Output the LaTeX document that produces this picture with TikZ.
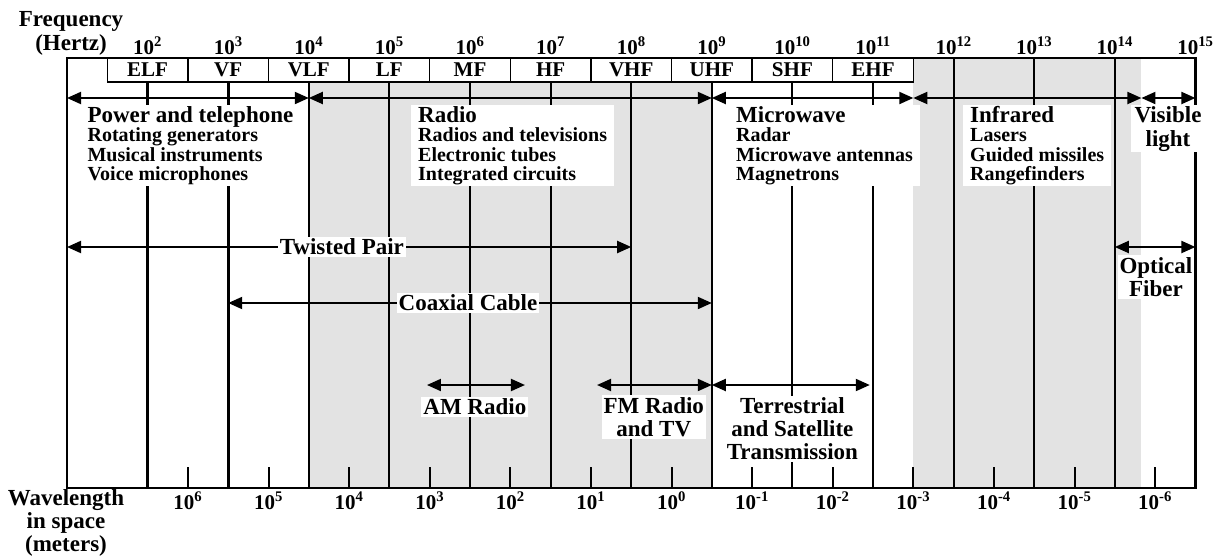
\documentclass[tikz,border=0pt]{standalone}
\usepackage{fontspec}
\setmainfont{Liberation Serif}
\usetikzlibrary{arrows.meta}

\newcommand\hdsize{\fontsize{23}{23}\selectfont}
\newcommand\itsize{\fontsize{20}{19.5}\selectfont}
\newcommand\nmsize{\fontsize{21}{21}\selectfont}

\begin{document}
\begin{tikzpicture}[
  x=80.6pt, y=-1pt,
  font=\bfseries\hdsize,
  band/.style={rectangle, draw, line width=1.4pt, fill=white,
               minimum width=80.6pt, minimum height=24pt, inner sep=0pt, font=\bfseries\nmsize},
  num/.style={anchor=base, inner sep=0pt, font=\bfseries\nmsize},
  dec/.style={line width=2pt},
  arr/.style={{Triangle[length=14pt,width=12pt]}-{Triangle[length=14pt,width=12pt]}, line width=2pt},
  blk/.style={fill=white, align=left, anchor=north west, inner xsep=7pt, inner ysep=1pt,
              font=\bfseries\itsize},
  lbl/.style={fill=white, align=center, inner sep=2pt},
]
\useasboundingbox (0.1687,0) rectangle (15.3672,558);

%% SHADED RANGES
\fill[black!11] (4,82) rectangle (9,488);
\fill[black!11] (11.5,58) rectangle (14.33,488);

%% FRAME
\draw[line width=2.8pt] (1,58) rectangle (15,488);

%% DECADE LINES
\foreach \n/\w in {2/3.4,3/3.4,4/2.4,5/2,6/2,7/2,8/2,9/2.6,10/2,11/2}
  \draw[line width=\w pt] (\n,82) -- (\n,488);
\foreach \n in {12,13,14}
  \draw[dec] (\n,58) -- (\n,488);

%% WAVELENGTH TICKS
\foreach \n in {2,...,14}
  \draw[dec] (\n+0.5,467) -- (\n+0.5,488);

%% BANDS
\foreach \n/\b in {2/ELF,3/VF,4/VLF,5/LF,6/MF,7/HF,8/VHF,9/UHF,10/SHF,11/EHF}
  \node[band] (\b) at (\n,70) {\b};

%% SCALES
\node[align=center, font=\bfseries\fontsize{23}{24}\selectfont] (freq) at (1.05,33) {Frequency\\(Hertz)};
\foreach \n in {2,...,15}
  \node[num] (hz\n) at (\n,54) {10\textsuperscript{\n}};

\node[align=center, font=\bfseries\fontsize{23}{23}\selectfont] (wave) at (0.988,523) {Wavelength\\in space\\(meters)};
\foreach \n [evaluate=\n as \e using int(8-\n)] in {2,...,14}
  \node[num] (m\n) at (\n+0.5,509) {10\textsuperscript{\e}};

%% ARROW ENDS
\foreach \c/\x/\y in {pw0/1/98, pw1/4/98, rd1/9/98, mw1/11.5/98, ir1/14.33/98, vl1/15/98,
                      tp0/1/247, tp1/8/247, of0/14/247, of1/15/247,
                      cx0/3/303, cx1/9/303,
                      am0/5.466/385, am1/6.682/385, fm0/7.576/385, fm1/9/385, ts1/10.96/385}
  \coordinate (\c) at (\x,\y);

\draw[arr] (pw0) -- (pw1);
\draw[arr] (pw1) -- (rd1);
\draw[arr] (rd1) -- (mw1);
\draw[arr] (mw1) -- (ir1);
\draw[arr] (ir1) -- (vl1);
\draw[arr] (tp0) -- (tp1);
\draw[arr] (of0) -- (of1);
\draw[arr] (cx0) -- (cx1);
\draw[arr] (am0) -- (am1);
\draw[arr] (fm0) -- (fm1);
\draw[arr] (fm1) -- (ts1);

%% APPLICATIONS
\node[blk] (power) at (1.166,105)
  {{\hdsize Power and telephone}\\Rotating generators\\Musical instruments\\Voice microphones};
\node[blk] (radio) at (5.268,105)
  {{\hdsize Radio}\\Radios and televisions\\Electronic tubes\\Integrated circuits};
\node[blk] (micro) at (9.213,105)
  {{\hdsize Microwave}\\Radar\\Microwave antennas\\Magnetrons};
\node[blk] (infra) at (12.117,105)
  {{\hdsize Infrared}\\Lasers\\Guided missiles\\Rangefinders};
\node[lbl, anchor=north, inner xsep=4pt, inner ysep=1pt, font=\bfseries\fontsize{23}{24}\selectfont]
  (vis) at (14.66,105) {Visible\\light};

%% MEDIA
\node[lbl] (tpl) at (4.41,247) {Twisted Pair};
\node[lbl] (cxl) at (5.975,303) {Coaxial Cable};
\node[lbl] (ofl) at (14.51,277) {Optical\\Fiber};
\node[lbl] (aml) at (6.06,407) {AM Radio};
\node[lbl] (fml) at (8.28,417) {FM Radio\\and TV};
\node[lbl] (tsl) at (10.0,429) {Terrestrial\\and Satellite\\Transmission};

\end{tikzpicture}
\end{document}
